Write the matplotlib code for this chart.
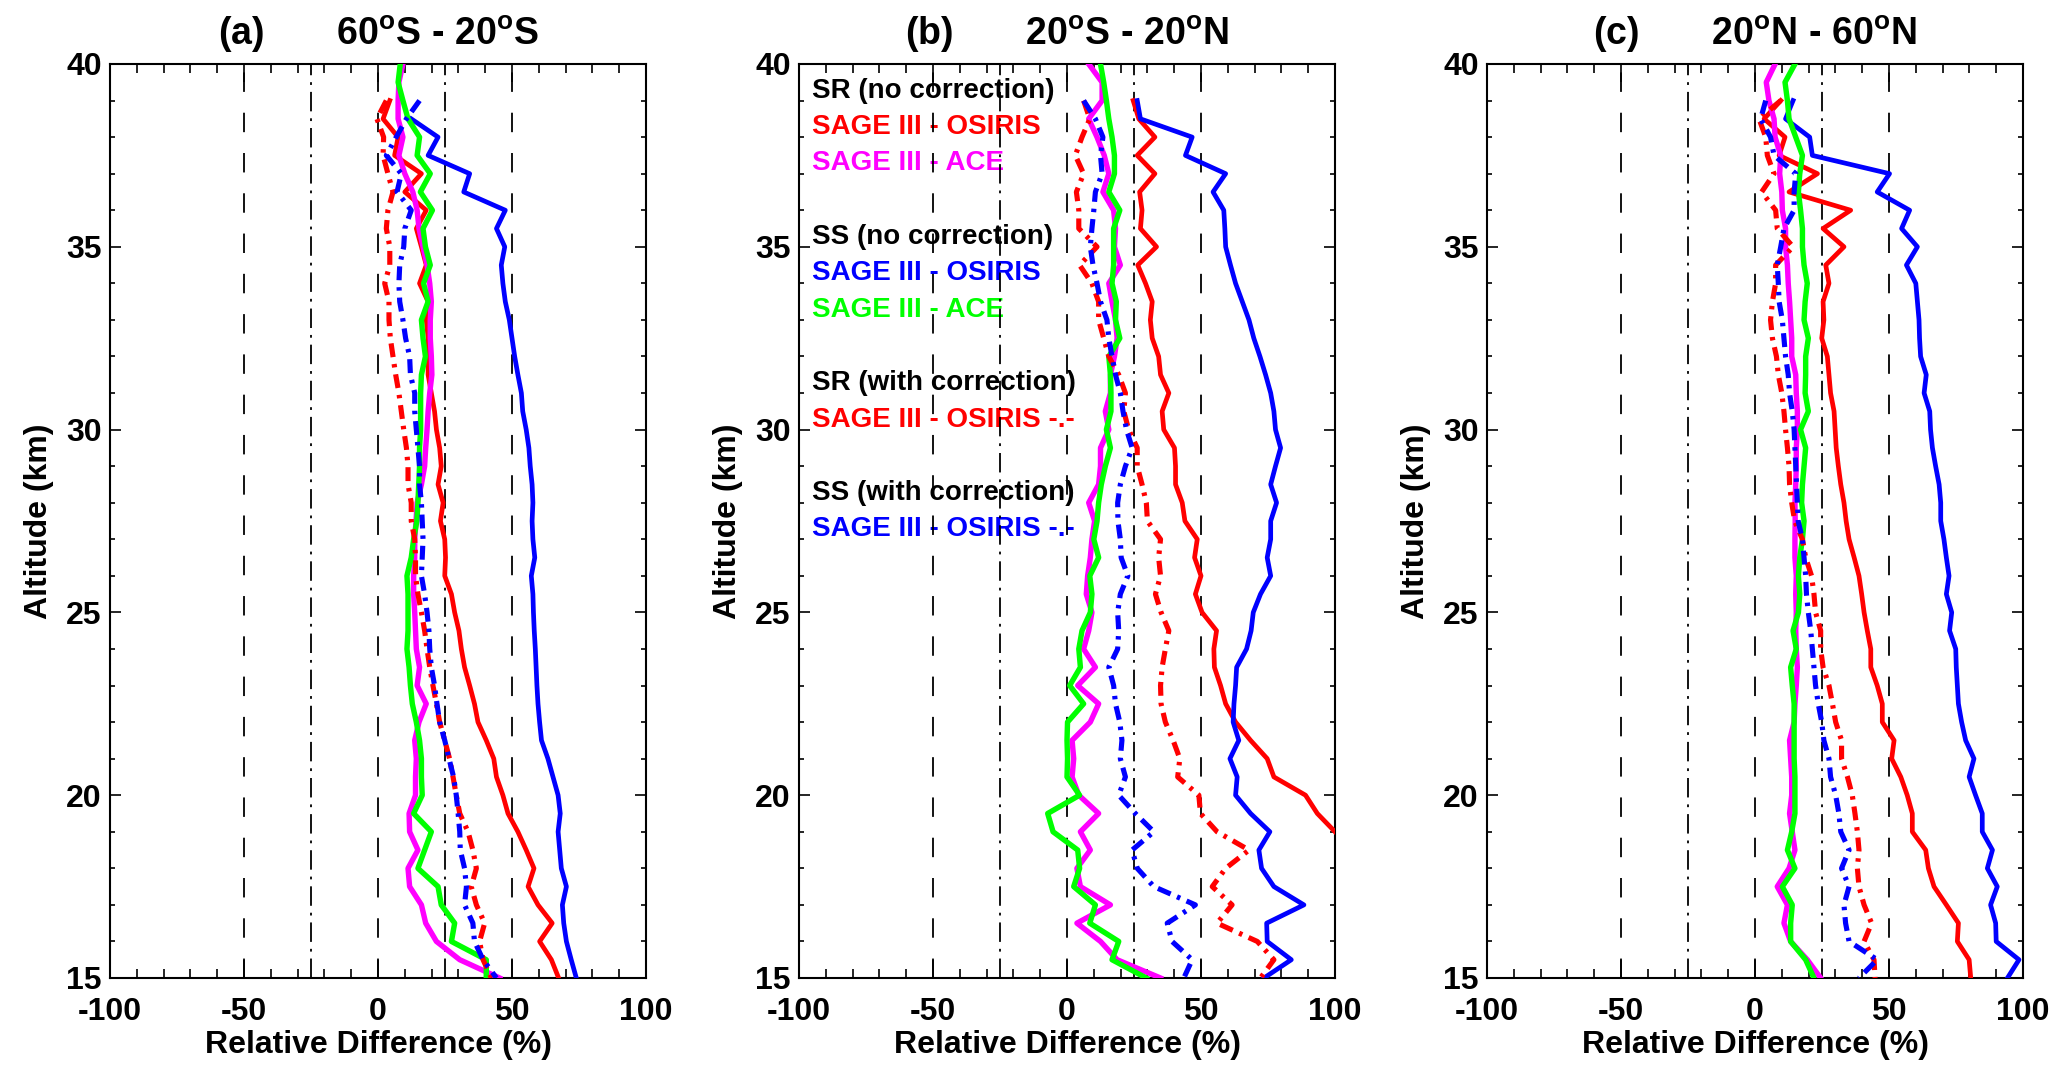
import numpy as np
import matplotlib
matplotlib.use("Agg")
import matplotlib.pyplot as plt
from matplotlib.ticker import MultipleLocator

plt.rcParams['font.family'] = ['Liberation Sans', 'DejaVu Sans']
plt.rcParams['font.weight'] = 'bold'
plt.rcParams['mathtext.fontset'] = 'custom'
plt.rcParams['mathtext.rm'] = 'Liberation Sans:bold'
plt.rcParams['mathtext.bf'] = 'Liberation Sans:bold'
plt.rcParams['lines.scale_dashes'] = False
plt.rcParams['axes.unicode_minus'] = False

nan = np.nan

# altitude grid, 40 km down to 15 km every 0.5 km
altitude = np.arange(40.0, 14.9, -0.5)

# ---- panel (a) 60S - 20S ----
a_sr_osiris = [nan, nan, 4.4, 1.9, 7.5, 6.2, 16.2, 10.0, 18.0, 14.3,
               16.2, 18.0, 15.5, 18.7, 18.0, 18.7, 18.7, 18.7, 19.9, 21.1,
               21.8, 23.0, 23.6, 22.4, 24.3, 23.3, 24.9, 25.2, 24.9, 27.4,
               28.6, 30.2, 31.1, 32.3, 34.2, 36.0, 37.3, 40.4, 43.2, 44.2,
               46.6, 48.5, 52.2, 55.3, 58.2, 56.0, 59.7, 65.0, 60.3, 64.7,
               67.4]
a_sr_ace = [9.3, 7.8, 7.5, 7.5, 9.3, 7.8, 10.0, 13.0, 14.6, 15.3,
            16.8, 18.3, 19.3, 19.9, 19.5, 19.5, 19.9, 20.1, 19.3, 18.7,
            18.3, 17.8, 17.4, 16.2, 14.6, 14.2, 13.7, 13.7, 13.3, 13.3,
            13.7, 14.0, 14.3, 15.5, 14.6, 18.0, 15.3, 13.7, 14.3, 14.0,
            14.0, 11.6, 11.8, 14.9, 11.2, 11.8, 16.2, 17.8, 21.8, 30.5,
            45.4]
a_ss_osiris = [nan, nan, nan, 12.4, 22.4, 18.7, 34.2, 32.0, 47.5, 44.2,
               47.3, 46.0, 46.6, 47.5, 49.0, 50.0, 51.0, 52.2, 53.5, 54.0,
               55.3, 56.3, 56.8, 57.5, 57.8, 57.5, 57.8, 58.5, 57.2, 57.8,
               58.0, 58.3, 58.7, 59.0, 59.3, 59.7, 60.3, 61.0, 63.4, 65.3,
               67.2, 68.0, 67.2, 67.8, 68.4, 70.3, 68.8, 69.3, 70.3, 72.1,
               74.0]
a_ss_ace = [8.3, 7.5, 9.3, 11.2, 15.5, 14.6, 19.5, 15.8, 20.3, 16.8,
            17.7, 19.5, 17.0, 18.7, 16.2, 16.8, 17.7, 16.2, 15.9, 15.9,
            15.9, 15.5, 15.5, 15.2, 14.9, 14.5, 13.3, 12.4, 10.8, 11.2,
            11.2, 11.2, 10.8, 11.6, 12.1, 12.8, 14.3, 15.5, 16.2, 16.2,
            16.5, 13.3, 19.9, 17.4, 14.9, 22.4, 23.6, 28.6, 27.4, 40.4,
            40.4]
a_sr_osiris_corr = [nan, nan, 3.1, -0.4, 2.1, 1.9, 3.7, 5.6, 3.7, 3.1,
                    4.4, 4.4, 2.5, 4.1, 4.1, 4.6, 5.6, 6.6, 7.8, 8.7,
                    9.6, 10.6, 11.2, 11.2, 12.4, 12.4, 13.7, 14.0, 14.0, 14.9,
                    16.2, 17.4, 18.3, 19.3, 20.5, 21.8, 23.0, 24.9, 26.7, 28.0,
                    29.2, 30.5, 33.6, 35.4, 36.7, 34.8, 36.7, 39.8, 37.9, 39.2,
                    42.3]
a_ss_osiris_corr = [nan, nan, 15.5, 10.6, 6.8, 3.1, 8.7, 7.1, 12.4, 10.0,
                    9.6, 8.1, 7.8, 8.1, 9.3, 10.3, 11.8, 12.1, 13.7, 13.7,
                    14.3, 14.9, 15.5, 15.5, 16.2, 16.5, 16.8, 16.5, 16.2, 17.4,
                    18.3, 19.0, 19.3, 19.9, 21.1, 22.0, 23.0, 24.9, 26.5, 28.2,
                    29.2, 29.9, 30.5, 30.7, 32.3, 33.0, 32.3, 35.4, 36.0, 39.2,
                    44.2]

# ---- panel (b) 20S - 20N ----
b_sr_osiris = [nan, nan, 24.7, 26.8, 32.8, 26.2, 32.8, 27.1, 28.0, 27.4,
               33.4, 26.4, 29.3, 31.8, 31.1, 31.8, 34.2, 34.9, 38.0, 35.5,
               36.1, 40.1, 40.5, 40.5, 43.0, 44.0, 48.6, 47.6, 50.0, 47.9,
               50.4, 55.8, 54.8, 55.0, 57.3, 59.2, 62.9, 68.5, 74.7, 77.2,
               89.0, 93.4, 100.0, nan, nan, nan, nan, nan, nan, nan,
               nan]
b_sr_ace = [8.1, 13.1, 13.1, 8.1, 11.2, 13.9, 15.6, 13.4, 17.4, 18.1,
            17.7, 19.9, 15.6, 16.8, 18.1, 18.7, 17.7, 16.2, 16.2, 14.3,
            15.6, 12.5, 12.5, 11.8, 8.1, 10.3, 9.3, 8.7, 7.7, 7.2,
            9.3, 8.1, 6.2, 10.6, 4.0, 11.8, 8.7, 1.9, 2.5, 1.9,
            4.4, 11.8, 5.0, 8.7, 3.7, 5.0, 16.2, 3.7, 12.5, 18.7,
            34.9]
b_ss_osiris = [nan, nan, 26.2, 27.4, 46.7, 44.2, 59.2, 54.5, 58.5, 58.9,
               59.2, 61.0, 62.9, 65.4, 67.9, 69.7, 72.0, 74.1, 76.0, 77.2,
               77.8, 79.7, 77.8, 76.0, 78.2, 76.0, 76.0, 74.7, 76.0, 72.2,
               69.5, 68.7, 67.0, 63.3, 62.9, 62.3, 62.0, 64.1, 60.8, 63.5,
               62.9, 68.5, 75.7, 71.6, 72.6, 77.2, 88.4, 74.5, 74.7, 83.7,
               73.5]
b_ss_ace = [12.5, 13.7, 14.7, 15.6, 16.8, 17.7, 17.7, 15.6, 19.7, 17.4,
            17.4, 17.4, 16.8, 18.4, 18.1, 19.7, 15.6, 16.2, 16.4, 16.4,
            14.7, 16.2, 14.3, 12.8, 11.8, 11.2, 10.0, 11.8, 8.5, 9.3,
            8.7, 5.6, 4.4, 5.0, 1.0, 6.2, 0.2, 0.0, 0.2, 0.0,
            4.7, -7.2, -5.2, 4.0, 4.7, 2.5, 10.6, 8.5, 19.3, 16.8,
            29.6]
b_sr_osiris_corr = [nan, nan, 6.2, 8.5, 5.6, 3.1, 6.2, 3.5, 4.4, 4.4,
                    11.2, 4.7, 9.3, 11.8, 11.8, 13.7, 15.6, 19.3, 21.8, 21.2,
                    23.0, 26.2, 26.2, 28.0, 29.6, 30.0, 34.9, 34.2, 34.9, 33.0,
                    35.1, 38.0, 36.7, 35.5, 34.9, 35.1, 36.7, 39.6, 42.1, 41.3,
                    49.2, 49.8, 56.0, 67.9, 59.2, 54.2, 61.6, 56.0, 71.0, 77.2,
                    72.2]
b_ss_osiris_corr = [nan, nan, 6.2, 10.6, 13.4, 12.5, 13.1, 10.6, 10.0, 9.3,
                    8.7, 9.7, 11.2, 12.5, 14.9, 15.6, 16.8, 18.1, 19.9, 20.9,
                    22.2, 24.3, 21.8, 19.9, 18.9, 19.0, 19.9, 20.2, 22.7, 19.9,
                    18.9, 19.3, 18.9, 15.6, 17.4, 18.1, 19.7, 20.5, 19.9, 21.8,
                    19.3, 25.5, 32.4, 24.3, 26.2, 32.4, 47.9, 37.4, 39.2, 46.7,
                    43.6]

# ---- panel (c) 20N - 60N ----
c_sr_osiris = [nan, nan, 9.6, 3.4, 11.2, 9.0, 23.3, 12.7, 35.7, 25.4,
               33.2, 26.4, 27.6, 25.4, 25.7, 24.9, 27.0, 27.6, 28.2, 29.5,
               29.9, 30.3, 31.1, 32.0, 33.2, 34.0, 35.1, 37.0, 38.8, 39.8,
               40.7, 41.9, 43.2, 43.2, 45.6, 47.5, 47.5, 51.9, 51.0, 54.4,
               56.8, 58.7, 58.7, 63.7, 64.7, 66.8, 71.4, 75.9, 75.5, 79.9,
               80.5]
c_sr_ace = [7.5, 4.2, 5.2, 7.1, 7.5, 9.6, 9.2, 10.0, 10.2, 11.4,
            11.4, 12.1, 12.4, 12.9, 13.3, 13.7, 13.7, 15.2, 15.4, 15.8,
            15.8, 15.4, 15.4, 15.2, 14.9, 15.0, 14.9, 14.9, 15.4, 15.2,
            15.4, 15.2, 15.4, 15.8, 15.4, 14.9, 14.6, 12.9, 13.3, 13.7,
            13.7, 12.9, 13.9, 14.9, 12.7, 8.3, 12.1, 10.8, 13.3, 19.5,
            24.5]
c_ss_osiris = [nan, nan, 14.2, 11.4, 20.4, 21.4, 50.2, 45.6, 57.7, 54.7,
               60.6, 56.5, 60.0, 60.6, 61.2, 61.4, 61.8, 63.9, 63.1, 65.2,
               65.5, 66.2, 67.4, 68.7, 69.3, 69.3, 70.5, 71.4, 72.4, 71.4,
               73.4, 72.6, 74.9, 75.1, 75.5, 75.9, 77.1, 78.6, 81.7, 79.9,
               82.3, 84.8, 84.8, 88.6, 86.7, 90.4, 87.9, 89.8, 90.0, 98.5,
               94.2]
c_ss_ace = [14.9, 11.2, 12.1, 12.7, 15.2, 17.7, 16.7, 16.2, 17.0, 17.7,
            17.7, 18.3, 19.5, 18.7, 18.3, 19.9, 18.9, 18.9, 18.7, 19.9,
            17.0, 18.9, 18.3, 17.7, 17.4, 18.3, 17.7, 16.7, 16.2, 16.7,
            16.2, 14.2, 15.4, 13.3, 13.9, 14.6, 14.6, 14.6, 14.6, 14.9,
            14.9, 14.9, 13.7, 12.1, 14.9, 10.2, 13.9, 13.3, 13.3, 18.9,
            22.0]
c_sr_osiris_corr = [nan, nan, 9.6, 1.5, 4.0, 4.6, 7.1, 2.5, 7.7, 8.3,
                    14.2, 7.7, 7.7, 6.5, 5.8, 6.5, 8.0, 8.7, 10.0, 10.8,
                    11.4, 12.1, 12.7, 12.9, 13.7, 14.8, 17.7, 18.9, 21.1, 22.0,
                    22.6, 24.5, 24.5, 25.4, 27.6, 28.9, 30.1, 32.3, 32.3, 34.5,
                    36.3, 37.3, 38.2, 38.8, 38.2, 38.8, 40.7, 43.5, 40.7, 44.4,
                    44.8]
c_ss_osiris_corr = [nan, nan, 4.0, 2.1, 5.8, 7.1, 15.2, 14.6, 14.6, 10.8,
                    9.6, 8.3, 8.7, 9.0, 10.2, 10.8, 11.4, 12.4, 12.9, 13.9,
                    14.6, 14.9, 15.2, 15.5, 15.8, 16.1, 17.7, 18.3, 18.9, 19.2,
                    19.9, 20.8, 21.4, 22.0, 22.6, 23.6, 24.9, 25.7, 27.6, 28.2,
                    30.1, 31.3, 32.0, 35.1, 32.3, 35.1, 33.2, 33.8, 35.1, 45.6,
                    38.8]

panel_titles = [r'(a)       60$^{\mathbf{o}}$S - 20$^{\mathbf{o}}$S',
                r'(b)       20$^{\mathbf{o}}$S - 20$^{\mathbf{o}}$N',
                r'(c)       20$^{\mathbf{o}}$N - 60$^{\mathbf{o}}$N']
panel_data = [
    (a_sr_osiris, a_sr_ace, a_ss_osiris, a_ss_ace, a_sr_osiris_corr, a_ss_osiris_corr),
    (b_sr_osiris, b_sr_ace, b_ss_osiris, b_ss_ace, b_sr_osiris_corr, b_ss_osiris_corr),
    (c_sr_osiris, c_sr_ace, c_ss_osiris, c_ss_ace, c_sr_osiris_corr, c_ss_osiris_corr),
]

# legend written as coloured text in panel (b): (text, colour, altitude)
legend_lines = [
    ('SR (no correction)', 'black', 39.25),
    ('SAGE III - OSIRIS', 'red', 38.28),
    ('SAGE III - ACE', 'magenta', 37.28),
    ('SS (no correction)', 'black', 35.28),
    ('SAGE III - OSIRIS', 'blue', 34.28),
    ('SAGE III - ACE', 'lime', 33.28),
    ('SR (with correction)', 'black', 31.27),
    ('SAGE III - OSIRIS -.-', 'red', 30.27),
    ('SS (with correction)', 'black', 28.26),
    ('SAGE III - OSIRIS -.-', 'blue', 27.28),
]

W, H = 2067, 1078
fig = plt.figure(figsize=(W / 100, H / 100), dpi=100)

lefts = [110, 799, 1487]
dashdot = (0, (10, 5, 2.5, 5))

for i, left in enumerate(lefts):
    ax = fig.add_axes([left / W, 100 / H, 536 / W, 914 / H])
    sr_osiris, sr_ace, ss_osiris, ss_ace, sr_corr, ss_corr = panel_data[i]

    # reference lines
    for xv in (-50, 0, 50):
        ax.axvline(xv, color='black', lw=1.3, ls=(0, (14, 15)), zorder=1.5)
    for xv in (-25, 25):
        ax.axvline(xv, color='black', lw=1.3, ls=(0, (14, 5, 2, 5)), zorder=1.5)

    ax.plot(sr_osiris, altitude, color='red', lw=3.4, zorder=3)
    ax.plot(sr_ace, altitude, color='magenta', lw=3.9, zorder=3)
    ax.plot(ss_osiris, altitude, color='blue', lw=3.4, zorder=3)
    ax.plot(ss_ace, altitude, color='lime', lw=3.9, zorder=3)
    ax.plot(sr_corr, altitude, color='red', lw=3.7, ls=dashdot, zorder=3)
    ax.plot(ss_corr, altitude, color='blue', lw=3.7, ls=dashdot, zorder=3)

    ax.set_xlim(-100, 100)
    ax.set_ylim(15, 40)
    ax.xaxis.set_major_locator(MultipleLocator(50))
    ax.xaxis.set_minor_locator(MultipleLocator(10))
    ax.yaxis.set_major_locator(MultipleLocator(5))
    ax.yaxis.set_minor_locator(MultipleLocator(1))
    ax.tick_params(axis='both', which='both', direction='in',
                   top=True, right=True, width=1.2, labelsize=23)
    ax.tick_params(axis='x', which='major', length=13, pad=14)
    ax.tick_params(axis='x', which='minor', length=6.5)
    ax.tick_params(axis='y', which='major', length=8, pad=6)
    ax.tick_params(axis='y', which='minor', length=3.8)
    for sp in ax.spines.values():
        sp.set_linewidth(1.5)

    ax.set_xlabel('Relative Difference (%)', fontsize=23, fontweight='bold', labelpad=2)
    ax.set_ylabel('Altitude (km)', fontsize=23, fontweight='bold', labelpad=9)
    ax.set_title(panel_titles[i], fontsize=27, fontweight='bold', pad=14)

    if i == 1:
        for txt, col, yv in legend_lines:
            ax.text(-95, yv, txt, color=col, fontsize=20, fontweight='bold',
                    va='center', ha='left', zorder=1)

fig.savefig('out.png', dpi=100)
